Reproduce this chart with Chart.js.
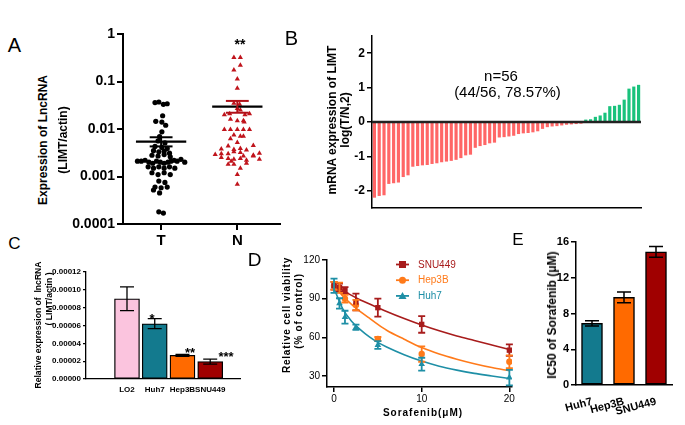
<!DOCTYPE html>
<html>
<head>
<meta charset="utf-8">
<script src="https://cdn.jsdelivr.net/npm/chart.js"></script>
<style>
  body { margin:0; background:#fff; width:685px; height:425px; position:relative; overflow:hidden;
         font-family: Arial, "Liberation Sans", sans-serif; }
  canvas { position:absolute; }
  .t { position:absolute; white-space:nowrap; color:#000; line-height:1; }
  .v { transform:translate(-50%,-50%) rotate(-90deg); font-weight:bold; }
  .c { transform:translate(-50%,-50%); }
  .s { transform:translateX(-50%); font-weight:bold; }
</style>
</head>
<body>
<canvas id="cA" width="230" height="235" style="left:60px;top:20px"></canvas>
<canvas id="cB" width="320" height="200" style="left:330px;top:20px"></canvas>
<canvas id="cC" width="230" height="160" style="left:20px;top:258px"></canvas>
<canvas id="cD" width="250" height="170" style="left:270px;top:245px"></canvas>
<canvas id="cE" width="156" height="195" style="left:526px;top:228px"></canvas>

<!-- panel letters -->
<div class="t c" style="left:14.5px;top:44.5px;font-size:20px">A</div>
<div class="t c" style="left:291.5px;top:38px;font-size:20px">B</div>
<div class="t c" style="left:14.5px;top:242.5px;font-size:17px">C</div>
<div class="t c" style="left:254.5px;top:258.5px;font-size:19px">D</div>
<div class="t c" style="left:518px;top:239px;font-size:17px">E</div>

<!-- A -->
<div class="t v" style="left:43px;top:140px;font-size:12px">Expression of LncRNA</div>
<div class="t v" style="left:63px;top:140px;font-size:12px">(LIMT/actin)</div>
<div class="t s" style="left:240px;top:37px;font-size:14px">**</div>

<!-- B -->
<div class="t v" style="left:332px;top:120px;font-size:12px">mRNA expression of LIMT</div>
<div class="t v" style="left:345px;top:120px;font-size:12px">log(T/N,2)</div>
<div class="t c" style="left:501px;top:75px;font-size:15px">n=56</div>
<div class="t c" style="left:507.5px;top:91px;font-size:15px">(44/56, 78.57%)</div>

<!-- C -->
<div class="t v" style="left:38px;top:325px;font-size:8.6px">Relative expression of&nbsp; lncRNA</div>
<div class="t v" style="left:49px;top:299px;font-size:8.6px">( LIMT/actin )</div>
<div class="t s" style="left:152px;top:312px;font-size:13px">*</div>
<div class="t s" style="left:190px;top:346px;font-size:13px">**</div>
<div class="t s" style="left:226px;top:350px;font-size:13px">***</div>

<!-- D -->
<div class="t v" style="left:287px;top:315px;font-size:10px;letter-spacing:0.8px">Relative cell viability</div>
<div class="t v" style="left:299px;top:311px;font-size:10px;letter-spacing:0.8px">(% of control)</div>
<div class="t c" style="left:423px;top:413px;font-size:10px;font-weight:bold;letter-spacing:1px">Sorafenib(μM)</div>

<!-- E -->
<div class="t v" style="left:552px;top:315px;font-size:12px">IC50 of Sorafenib (μM)</div>

<script>
// ---- A: LIMT expression, tumour vs normal (log scale)
const groups = ['T', 'N'];
const aTicks = [0.0001, 0.001, 0.01, 0.1, 1];
const aTickLabels = ['0.0001', '0.001', '0.01', '0.1', '1'];
const tVals = [0.036,0.037,0.033,0.034, 0.019, 0.0145,0.014,0.012, 0.0087, 0.0069, 0.0056,0.0051,
  0.0043,0.0041,0.0039, 0.0035,0.0033,0.0034,0.0031, 0.0028,0.0027,0.0029,0.0026,
  0.0021,0.0021,0.0022,0.002,0.0019,0.0021,0.002,0.0019,0.002,0.0021,0.0022,0.0021,0.0023,0.002,
  0.0016,0.0015,0.0016,0.0015,0.0016,0.0015, 0.0012,0.0011,0.0012,0.0011, 0.0008,0.00075,
  0.0006,0.00058,0.0006, 0.00052,0.00045, 0.00018,0.00017];
const tX = [-0.08,-0.03,0.03,0.08, 0.02, -0.07,0.01,0.06, 0.01, -0.02, -0.04,0.05,
  -0.08,0.01,0.08, -0.1,-0.03,0.04,0.11, -0.12,-0.04,0.04,0.12,
  -0.31,-0.26,-0.21,-0.16,-0.11,-0.06,-0.01,0.04,0.09,0.13,0.17,0.21,0.26,0.31,
  -0.17,-0.1,-0.03,0.04,0.11,0.18, -0.12,-0.04,0.04,0.12, -0.03,0.05,
  -0.08,0.0,0.08, -0.1,-0.02, -0.03,0.03];
const nVals = [0.32,0.32, 0.22, 0.175, 0.113, 0.072, 0.035,0.033,0.027,0.025,
  0.02,0.021,0.02,0.021, 0.016,0.015,0.015,0.014, 0.0098,0.0098,0.0098,0.0098,0.0098,
  0.0075,0.007,0.007, 0.0062, 0.0052, 0.0044,0.0045, 0.0038,0.0037,0.0039,0.0036,
  0.0029,0.003,0.003,0.0033,0.0032,0.0028,0.0031, 0.0025,0.0024,0.0023,0.0024,0.0022,0.0027,0.0023,
  0.0018,0.0018,0.0019, 0.0015, 0.0011, 0.00069, 0.0027, 0.0021];
const nX = [-0.045,0.04, 0.04, -0.045, 0, 0, -0.045,0.03,0,0.04,
  -0.17,-0.1,0.1,0.16, -0.09,0,0.08,0.09, -0.17,-0.09,0,0.08,0.16,
  -0.045,0.04,0.08, -0.09, 0, -0.12,0.21, -0.21,-0.045,0.04,0.12,
  -0.29,-0.21,-0.12,-0.045,0.04,0.21,0.29, -0.21,-0.12,-0.045,0.04,0.12,0.21,0.29,
  -0.12,-0.045,0.12, 0.04, 0, 0, 0.08, -0.08];
const groupMean = [0.0054, 0.0295];
const groupSemHi = [0.0067, 0.039];
const groupSemLo = [0.0043, 0.022];

// ---- B: waterfall of log2(T/N)
const bVals = [-2.2,-2.15,-2.13,-1.8,-1.78,-1.76,-1.6,-1.55,-1.3,-1.28,
  -1.26,-1.25,-1.22,-1.2,-1.17,-1.15,-1.13,-1.1,-1.05,-0.97,
  -0.95,-0.75,-0.7,-0.67,-0.62,-0.6,-0.45,-0.44,-0.42,-0.4,
  -0.35,-0.33,-0.32,-0.3,-0.27,-0.2,-0.15,-0.13,-0.12,-0.1,
  -0.08,-0.07,-0.06,-0.05,
  0.07,0.08,0.15,0.19,0.27,0.46,0.47,0.5,0.65,0.97,1.03,1.08];
const bTicks = [-2, -1, 0, 1, 2];

// ---- C: lncRNA in cell lines
const cLabels = ['LO2', 'Huh7', 'Hep3B', 'SNU449'];
const cVals = [0.00009, 0.000062, 0.0000265, 0.0000195];
const cErr = [0.0000133, 0.0000056, 0.0000012, 0.0000028];
const cColors = ['#fbc4de', '#137a8e', '#ff6a00', '#a00000'];
const cTicks = [0, 0.00002, 0.00004, 0.00006, 0.00008, 0.0001, 0.00012];

// ---- D: viability vs sorafenib
const dDose = [0, 0.625, 1.25, 2.5, 5, 10, 20];
const dSNU = [100, 98.6, 96.5, 87.4, 83, 70, 50];
const dSNUErr = [3, 3, 2.5, 6.5, 7, 6.5, 4.5];
const dHep = [100, 98.5, 90, 85, 58.7, 47, 41];
const dHepErr = [3, 4, 3, 4, 1.5, 6, 5];
const dHuh = [100, 86.3, 75.6, 67.8, 54, 39.1, 28.7];
const dHuhErr = [5.5, 4, 5, 2, 3, 5, 6];
const fitX = [0, 1, 2, 3, 4, 5, 6, 8, 10, 12, 14, 16, 18, 20];
const fitSNU = [100, 96.5, 92.5, 89, 86, 83, 80, 74.5, 69.5, 65, 61, 57.5, 54, 50.5];
const fitHep = [100, 92, 85.5, 80, 75, 70, 65.5, 58.5, 52, 47, 43, 39.5, 36.5, 34];
const fitHuh = [98, 82, 72.5, 66, 60.5, 56, 52.5, 46.5, 41.5, 37.5, 34.5, 32, 30, 28];
const dXTicks = [0, 10, 20];
const dYTicks = [30, 60, 90, 120];
const dNames = ['SNU449', 'Hep3B', 'Huh7'];
const dColors = ['#a81c1c', '#ff7a1a', '#1e8fa6'];
const dStyles = ['rect', 'circle', 'triangle'];

// ---- E: IC50
const eLabels = ['Huh7', 'Hep3B', 'SNU449'];
const eVals = [6.9, 9.8, 14.9];
const eErr = [0.3, 0.6, 0.6];
const eColors = ['#137a8e', '#ff6a00', '#a00000'];
const eTicks = [0, 4, 8, 12, 16];

Chart.defaults.font.family = 'Arial, "Liberation Sans", sans-serif';
Chart.defaults.color = '#000';
Chart.defaults.animation = false;
Chart.defaults.responsive = false;
Chart.defaults.devicePixelRatio = 1;
Chart.defaults.plugins.legend.display = false;
Chart.defaults.plugins.tooltip.enabled = false;

const errorBars = {
  id: 'errorBars',
  afterDatasetsDraw(chart) {
    const ctx = chart.ctx;
    chart.data.datasets.forEach((ds, i) => {
      if (!ds.errors) return;
      const meta = chart.getDatasetMeta(i);
      const ys = chart.scales[meta.yAxisID];
      ctx.save();
      ctx.strokeStyle = ds.errorColor || '#000';
      ctx.lineWidth = ds.errorWidth || 1.5;
      meta.data.forEach((el, j) => {
        const raw = ds.data[j];
        const v = typeof raw === 'object' ? raw.y : raw;
        const e = ds.errors[j];
        const x = el.x, y1 = ys.getPixelForValue(v + e), y2 = ys.getPixelForValue(v - e);
        const w = ds.errorCap || 5;
        ctx.beginPath();
        ctx.moveTo(x, y1); ctx.lineTo(x, y2);
        ctx.moveTo(x - w, y1); ctx.lineTo(x + w, y1);
        ctx.moveTo(x - w, y2); ctx.lineTo(x + w, y2);
        ctx.stroke();
      });
      ctx.restore();
    });
  }
};

const fixW = w => s => { s.width = w; };
const fixH = h => s => { s.height = h; };
const setTicks = arr => s => { s.ticks = arr.map(v => ({ value: v })); };

function yAxis(w, size, bold, bw, extra) {
  return Object.assign({
    afterFit: fixW(w),
    grid: { display: true, drawOnChartArea: false, color: '#000', tickLength: 5, lineWidth: bw },
    border: { color: '#000', width: bw },
    ticks: { color: '#000', padding: 2, font: { size: size, weight: bold ? 'bold' : 'normal' } }
  }, extra);
}

// ---------- A
function seg(x1, x2, y1, y2, color, w) {
  return { type: 'line', data: [{ x: x1, y: y1 }, { x: x2, y: y2 }], borderColor: color,
           borderWidth: w, pointRadius: 0, showLine: true, order: 0 };
}
const aLines = [];
[0, 1].forEach(g => {
  const cx = g + 1, col = g === 0 ? '#000' : '#b01018';
  aLines.push(seg(cx - 0.15, cx + 0.15, groupSemHi[g], groupSemHi[g], col, 2));
  aLines.push(seg(cx - 0.15, cx + 0.15, groupSemLo[g], groupSemLo[g], col, 2));
  aLines.push(seg(cx, cx, groupSemLo[g], groupSemHi[g], col, 2));
  aLines.push(seg(cx - 0.33, cx + 0.33, groupMean[g], groupMean[g], '#000', 2.2));
});
new Chart(document.getElementById('cA'), {
  type: 'scatter',
  data: { datasets: [
    ...aLines,
    { data: tVals.map((v, i) => ({ x: 1 + tX[i], y: v })), pointStyle: 'circle', pointRadius: 2.6,
      backgroundColor: '#000', borderWidth: 0, order: 5 },
    { data: nVals.map((v, i) => ({ x: 2 + nX[i], y: v })), pointStyle: 'triangle', pointRadius: 3,
      backgroundColor: '#c0141c', borderWidth: 0, order: 5 }
  ]},
  options: {
    layout: { padding: { top: 14, right: 10, left: 0, bottom: 0 } },
    scales: {
      x: { type: 'linear', min: 0.5, max: 2.56, afterFit: fixH(31), afterBuildTicks: setTicks([1, 2]),
           grid: { display: true, drawOnChartArea: false, color: '#000', tickLength: 6, lineWidth: 2 },
           border: { color: '#000', width: 2 },
           ticks: { padding: 2, font: { size: 15, weight: 'bold' }, callback: (v, i) => groups[i] } },
      y: yAxis(63, 14, true, 2, { type: 'logarithmic', min: 0.0001, max: 1,
           afterBuildTicks: setTicks(aTicks) })
    }
  }
});
Chart.getChart('cA').options.scales.y.ticks.callback = (v, i) => aTickLabels[i];
Chart.getChart('cA').options.scales.y.grid.tickLength = 6;
Chart.getChart('cA').update();

// ---------- B
const zeroLine = {
  id: 'zeroLine',
  afterDatasetsDraw(chart) {
    const { ctx, chartArea, scales } = chart;
    const y = scales.y.getPixelForValue(0);
    ctx.save();
    ctx.strokeStyle = '#222';
    ctx.lineWidth = 2.5;
    ctx.beginPath();
    ctx.moveTo(chartArea.left, y); ctx.lineTo(chartArea.right, y);
    ctx.stroke();
    ctx.restore();
  }
};
new Chart(document.getElementById('cB'), {
  type: 'bar',
  data: { labels: bVals.map((_, i) => i + 1),
          datasets: [{ data: bVals, backgroundColor: bVals.map(v => v < 0 ? '#ff6666' : '#19c27c'),
                       barPercentage: 0.66, categoryPercentage: 1 }] },
  options: {
    layout: { padding: { top: 16, right: 9, left: 0, bottom: 12 } },
    scales: {
      x: { afterFit: fixH(0), ticks: { display: false }, grid: { display: false },
           border: { color: '#000', width: 1.5 } },
      y: yAxis(42, 12, true, 1.5, { min: -2.5, max: 2.5, afterBuildTicks: setTicks(bTicks) })
    }
  },
  plugins: [zeroLine]
});

// ---------- C
new Chart(document.getElementById('cC'), {
  type: 'bar',
  data: { datasets: [{ data: cVals.map((v, i) => ({ x: i, y: v })), backgroundColor: cColors,
                       borderColor: '#000', borderWidth: 1.3, borderSkipped: false, barThickness: 25,
                       errors: cErr, errorCap: 7, errorWidth: 1.3 }] },
  options: {
    layout: { padding: { top: 14, right: 10, left: 0, bottom: 0 } },
    scales: {
      x: { type: 'linear', min: -0.784, max: 3.38, afterFit: fixH(39), afterBuildTicks: setTicks([0, 1, 2, 3]),
           grid: { display: false }, border: { color: '#000', width: 1.3 },
           ticks: { padding: -2, font: { size: 8, weight: 'bold' }, callback: (v, i) => cLabels[i] } },
      y: yAxis(66, 8, true, 1.3, { min: 0, max: 0.00012, afterBuildTicks: setTicks(cTicks) })
    }
  },
  plugins: [errorBars]
});
Chart.getChart('cC').options.scales.y.ticks.callback = v => v.toFixed(5);
Chart.getChart('cC').options.scales.y.grid.tickLength = 3;
Chart.getChart('cC').update();

// ---------- D
const dLegend = {
  id: 'dLegend',
  afterDraw(chart) {
    const ctx = chart.ctx;
    ctx.save();
    dNames.forEach((name, i) => {
      const y = 19.5 + i * 15.7;
      ctx.strokeStyle = dColors[i];
      ctx.fillStyle = dColors[i];
      ctx.lineWidth = 1.8;
      ctx.beginPath(); ctx.moveTo(126, y); ctx.lineTo(139, y); ctx.stroke();
      ctx.beginPath();
      if (dStyles[i] === 'rect') ctx.rect(129, y - 3.5, 7, 7);
      else if (dStyles[i] === 'circle') ctx.arc(132.5, y, 3.5, 0, Math.PI * 2);
      else { ctx.moveTo(132.5, y - 4); ctx.lineTo(136.5, y + 3); ctx.lineTo(128.5, y + 3); ctx.closePath(); }
      ctx.fill();
      ctx.font = '10px "Liberation Sans Narrow", "Arial Narrow", Arial, sans-serif';
      ctx.textBaseline = 'middle';
      ctx.fillText(name, 148, y + 0.5);
    });
    ctx.restore();
  }
};
const dPts = [dSNU, dHep, dHuh], dErrs = [dSNUErr, dHepErr, dHuhErr], dFits = [fitSNU, fitHep, fitHuh];
const dSets = [];
dFits.forEach((f, i) => dSets.push({ type: 'line', data: fitX.map((x, j) => ({ x, y: f[j] })),
  borderColor: dColors[i], borderWidth: 1.6, pointRadius: 0, showLine: true,
  cubicInterpolationMode: 'monotone', order: 3 }));
dPts.forEach((p, i) => dSets.push({ data: dDose.map((x, j) => ({ x, y: p[j] })),
  pointStyle: dStyles[i], pointRadius: dStyles[i] === 'circle' ? 3.2 : 3.8,
  backgroundColor: dColors[i], borderColor: dColors[i], borderWidth: 0, showLine: false,
  errors: dErrs[i], errorColor: dColors[i], errorCap: 3.5, errorWidth: 1.8, order: 1 }));
new Chart(document.getElementById('cD'), {
  type: 'scatter',
  data: { datasets: dSets },
  options: {
    layout: { padding: { top: 15, right: 8, left: 0, bottom: 0 } },
    scales: {
      x: { type: 'linear', min: -0.8, max: 20.3, afterFit: fixH(28), afterBuildTicks: setTicks(dXTicks),
           grid: { display: true, drawOnChartArea: false, color: '#000', tickLength: 5, lineWidth: 1.5 },
           border: { color: '#000', width: 1.5 },
           ticks: { padding: 1, font: { size: 10 } } },
      y: yAxis(57, 10, false, 1.5, { min: 21.4, max: 120, afterBuildTicks: setTicks(dYTicks) })
    }
  },
  plugins: [errorBars, dLegend]
});

// ---------- E
new Chart(document.getElementById('cE'), {
  type: 'bar',
  data: { labels: eLabels,
          datasets: [{ data: eVals, backgroundColor: eColors, borderColor: '#000', borderWidth: 1.5,
                       borderSkipped: false, barThickness: 21, errors: eErr, errorCap: 7, errorWidth: 1.5 }] },
  options: {
    layout: { padding: { top: 14, right: 10, left: 0, bottom: 0 } },
    scales: {
      x: { afterFit: fixH(38), grid: { display: false }, border: { color: '#000', width: 1.5 },
           ticks: { padding: 2, minRotation: 15, maxRotation: 15, autoSkip: false,
                    font: { size: 11, weight: 'bold' } } },
      y: yAxis(50, 11, true, 1.5, { min: 0, max: 16, afterBuildTicks: setTicks(eTicks) })
    }
  },
  plugins: [errorBars]
});
</script>
</body>
</html>
